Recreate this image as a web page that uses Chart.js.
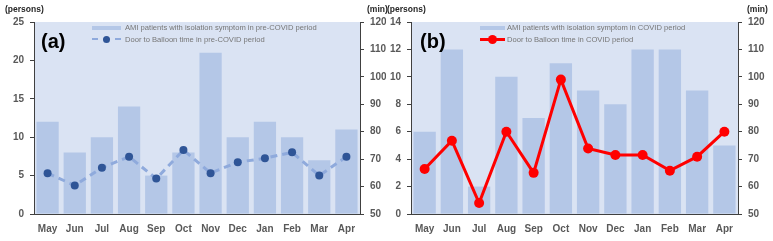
<!DOCTYPE html>
<html>
<head>
<meta charset="utf-8">
<script src="https://cdn.jsdelivr.net/npm/chart.js@4"></script>
<style>
  body { margin: 0; background: #fff; font-family: 'Liberation Sans', Arial, sans-serif; }
  #wrap { position: relative; width: 773px; height: 241px; overflow: hidden; }
  canvas { position: absolute; top: 0; }
  .unit { position: absolute; top: 4px; font-size: 8.5px; font-weight: bold; color: #262626; white-space: nowrap; }
  .panel { position: absolute; top: 30px; font-size: 20px; font-weight: bold; color: #000; }
  .lg { position: absolute; font-size: 7.6px; color: #767676; white-space: nowrap; line-height: 10px; }
  .sw { position: absolute; }
</style>
</head>
<body>
<div id="wrap">
  <canvas id="chartA" width="386" height="241" style="left:0"></canvas>
  <canvas id="chartB" width="387" height="241" style="left:386px"></canvas>

  <div class="unit" style="left:5px">(persons)</div>
  <div class="unit" style="left:367px">(min)</div>
  <div class="unit" style="left:387px">(persons)</div>
  <div class="unit" style="left:747px">(min)</div>

  <div class="panel" style="left:41px">(a)</div>
  <div class="panel" style="left:420px">(b)</div>

  <!-- legend (a) -->
  <div class="sw" style="left:92px;top:26px;width:29px;height:4px;background:#b4c7e7"></div>
  <div class="sw" style="left:92px;top:38px;width:29px;height:0;border-top:2.5px dashed #8faadc"></div>
  <div class="sw" style="left:103px;top:36px;width:7px;height:7px;border-radius:50%;background:#2f5597"></div>
  <div class="lg" style="left:125px;top:23px">AMI patients with isolation symptom in pre-COVID period</div>
  <div class="lg" style="left:125px;top:35px">Door to Balloon time in pre-COVID period</div>

  <!-- legend (b) -->
  <div class="sw" style="left:480px;top:26px;width:25px;height:4px;background:#b4c7e7"></div>
  <div class="sw" style="left:480px;top:38px;width:25px;height:3px;background:#ff0000"></div>
  <div class="sw" style="left:488px;top:35px;width:9px;height:9px;border-radius:50%;background:#ff0000"></div>
  <div class="lg" style="left:507px;top:23px">AMI patients with isolation symptom in COVID period</div>
  <div class="lg" style="left:507px;top:35px">Door to Balloon time in COVID period</div>
</div>

<script>
const months = ['May', 'Jun', 'Jul', 'Aug', 'Sep', 'Oct', 'Nov', 'Dec', 'Jan', 'Feb', 'Mar', 'Apr'];

// (a) pre-COVID
const prePatients = [12, 8, 10, 14, 5, 8, 21, 10, 12, 10, 7, 11];
const preD2B = [64.9, 60.4, 66.9, 70.9, 62.9, 73.3, 64.9, 68.9, 70.3, 72.5, 64.0, 70.9];

// (b) COVID
const covidPatients = [6, 12, 2, 10, 7, 11, 9, 8, 12, 12, 9, 5];
const covidD2B = [66.4, 76.7, 54.0, 80, 65.0, 99.0, 73.9, 71.5, 71.5, 65.8, 70.9, 80];

// axis ranges
const personsAxisA = { min: 0, max: 25, step: 5 };
const personsAxisB = { min: 0, max: 14, step: 2 };
const minAxis = { min: 50, max: 120, step: 10 };

const tickFont = { family: "'Liberation Sans', Arial, sans-serif", size: 10, weight: 'bold' };
const tickColor = '#595959';
const axisColor = '#404040';

const plotBg = {
    id: 'plotBg',
    beforeDraw(chart) {
        const a = chart.chartArea;
        const ctx = chart.ctx;
        ctx.save();
        ctx.fillStyle = '#dae3f3';
        ctx.fillRect(a.left, a.top, a.right - a.left, a.bottom - a.top);
        ctx.restore();
    }
};

function makeChart(el, persons, d2b, personsAxis, lineStyle, leftW, rightW) {
    return new Chart(el, {
        type: 'bar',
        data: {
            labels: months,
            datasets: [
                {
                    type: 'line', data: d2b, yAxisID: 'y2', order: 1,
                    ...lineStyle, tension: 0, pointBorderWidth: 0
                },
                {
                    data: persons, yAxisID: 'y', order: 2,
                    backgroundColor: '#b4c7e7',
                    barPercentage: 0.82, categoryPercentage: 1
                }
            ]
        },
        options: {
            responsive: false, animation: false, devicePixelRatio: 1,
            layout: { padding: { top: 22, left: 0, right: 0, bottom: 0 } },
            plugins: { legend: { display: false }, tooltip: { enabled: false } },
            scales: {
                x: {
                    grid: { display: false, drawTicks: false },
                    border: { color: axisColor },
                    ticks: { font: tickFont, color: tickColor, padding: 9 },
                    afterFit: s => { s.height = 27; }
                },
                y: {
                    position: 'left', min: personsAxis.min, max: personsAxis.max,
                    grid: { drawOnChartArea: false, tickLength: 4, color: axisColor },
                    border: { color: axisColor },
                    ticks: { stepSize: personsAxis.step, font: tickFont, color: tickColor, padding: 6 },
                    afterFit: s => { s.width = leftW; }
                },
                y2: {
                    position: 'right', min: minAxis.min, max: minAxis.max,
                    grid: { drawOnChartArea: false, tickLength: 4, color: axisColor },
                    border: { color: axisColor },
                    ticks: { stepSize: minAxis.step, font: tickFont, color: tickColor, padding: 6 },
                    afterFit: s => { s.width = rightW; }
                }
            }
        },
        plugins: [plotBg]
    });
}

makeChart(document.getElementById('chartA'), prePatients, preD2B, personsAxisA, {
    borderColor: '#8faadc', borderWidth: 3, borderDash: [7, 5],
    pointRadius: 4, pointBackgroundColor: '#2f5597'
}, 34, 26);

makeChart(document.getElementById('chartB'), covidPatients, covidD2B, personsAxisB, {
    borderColor: '#ff0000', borderWidth: 3,
    pointRadius: 5, pointBackgroundColor: '#ff0000'
}, 25, 35);
</script>
</body>
</html>
